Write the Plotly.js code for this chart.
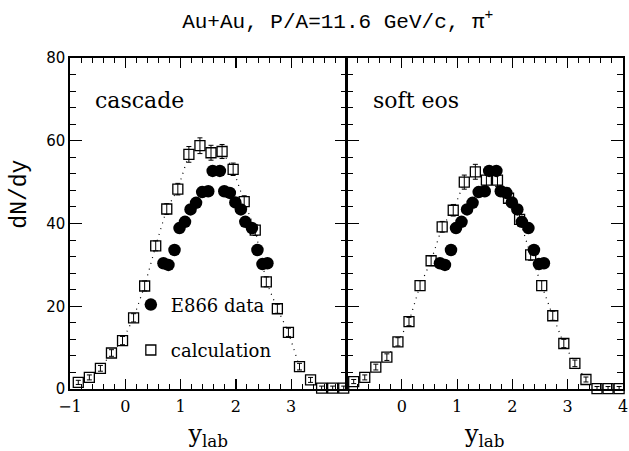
<!DOCTYPE html>
<html>
<head>
<meta charset="utf-8">
<script src="https://cdn.plot.ly/plotly-3.0.1.min.js"></script>
<style>html,body{margin:0;padding:0;background:#fff;}#chart{width:629px;height:451px;}</style>
</head>
<body>
<div id="chart"></div>
<script>
// E866 data (same in both panels)
const dataX = [0.69,0.78,0.89,0.98,1.08,1.18,1.28,1.39,1.50,1.58,1.71,1.79,1.89,1.99,2.09,2.17,2.29,2.39,2.48,2.57];
const dataY = [30.4,30.0,33.6,38.9,40.4,43.4,45.0,47.6,47.8,52.7,52.7,47.8,47.4,45.1,43.4,40.4,38.9,33.6,30.2,30.4];

// cascade calculation (left panel)
const calcLeftX = [-0.85,-0.65,-0.45,-0.25,-0.05,0.15,0.35,0.55,0.75,0.95,1.15,1.35,1.55,1.75,1.95,2.15,2.35,2.55,2.75,2.95,3.15,3.35,3.55,3.75,3.95];
const calcLeftY = [1.6,2.8,5.0,8.7,11.7,17.2,24.9,34.6,43.5,48.3,56.7,58.8,57.1,57.4,53.1,45.3,38.4,25.9,19.4,13.7,5.4,2.2,0.2,0.2,0.2];
const calcLeftErr = [0.5,0.6,0.7,0.8,1.0,1.0,1.2,1.2,1.3,1.4,1.9,1.9,1.8,1.7,1.5,1.4,1.3,1.2,1.1,1.0,0.8,0.6,0.5,0.5,0.5];

// soft eos calculation (right panel)
const calcRightX = [-0.87,-0.67,-0.47,-0.27,-0.07,0.13,0.33,0.53,0.73,0.93,1.13,1.33,1.53,1.73,1.93,2.13,2.33,2.53,2.73,2.93,3.13,3.33,3.53,3.73,3.93];
const calcRightY = [1.8,2.8,5.3,7.7,11.4,16.3,25.0,31.0,39.2,43.2,50.0,52.5,50.5,50.5,46.1,41.0,32.4,25.0,17.7,11.0,6.2,2.3,0.1,0.1,0.1];
const calcRightErr = [0.5,0.6,0.7,0.8,1.0,1.0,1.2,1.2,1.3,1.4,1.7,1.8,1.7,1.6,1.5,1.4,1.3,1.2,1.1,1.0,0.8,0.6,0.5,0.5,0.5];

const leftTicks = [-1,0,1,2,3];
const rightTicks = [0,1,2,3,4];
const yTicks = [0,20,40,60,80];

const serif = 'DejaVu Serif';
const mono = 'Liberation Mono';

function calcTraces(x, y, err, xa, ya, legend) {
  return [
    {x:x, y:y, xaxis:xa, yaxis:ya, type:'scatter', mode:'lines', showlegend:false,
     line:{color:'black', width:1.2, dash:'1px,5px'}, cliponaxis:false, hoverinfo:'skip'},
    {x:x, y:y, xaxis:xa, yaxis:ya, type:'scatter', mode:'markers', name:'calculation',
     showlegend:legend, legendgroup:'calc', legendrank:2,
     marker:{symbol:'square', size:10, color:'white', line:{color:'black', width:1.3}}, cliponaxis:false},
    {x:x, y:y, xaxis:xa, yaxis:ya, type:'scatter', mode:'markers', showlegend:false,
     marker:{size:1, color:'rgba(0,0,0,0)'},
     error_y:{type:'data', array:err, visible:true, color:'black', thickness:1, width:2.5}, cliponaxis:false}
  ];
}
function dataTrace(xa, ya, legend) {
  return {x:dataX, y:dataY, xaxis:xa, yaxis:ya, type:'scatter', mode:'markers', name:'E866 data',
    showlegend:legend, legendgroup:'data', legendrank:1,
    marker:{symbol:'circle', size:12.5, color:'black'}, cliponaxis:false};
}

const traces = [].concat(
  calcTraces(calcLeftX, calcLeftY, calcLeftErr, 'x', 'y', true),
  [dataTrace('x','y', true)],
  calcTraces(calcRightX, calcRightY, calcRightErr, 'x2', 'y2', false),
  [dataTrace('x2','y2', false)]
);

function xAxis(dom, vals, anchor) {
  return {domain:dom, range:[-1,4.0001], anchor:anchor, tickmode:'array', tickvals:vals,
    ticklabeloverflow:'allow', ticklabelstandoff:2,
    ticks:'inside', ticklen:10, tickwidth:1.2, tickcolor:'black',
    showline:true, linecolor:'black', linewidth:1.6, mirror:'allticks',
    showgrid:false, zeroline:false,
    tickfont:{family:serif, size:16, color:'black'},
    minor:{tickmode:'linear', tick0:0, dtick:0.2, ticks:'inside', ticklen:5, tickwidth:1, tickcolor:'black', showgrid:false},
    title:{text:'y<sub>lab</sub>', font:{family:serif, size:24, color:'black'}}};
}
function yAxis(anchor, labels) {
  return {domain:[0,1], range:[0,80], anchor:anchor, tickmode:'array', tickvals:yTicks,
    showticklabels:labels,
    ticks:'inside', ticklen:12, tickwidth:1.2, tickcolor:'black',
    showline:true, linecolor:'black', linewidth:1.6, mirror:'allticks',
    showgrid:false, zeroline:false,
    tickfont:{family:'DejaVu Sans', size:15, color:'black'},
    minor:{tickmode:'linear', tick0:0, dtick:4, ticks:'inside', ticklen:6, tickwidth:1, tickcolor:'black', showgrid:false}};
}

const layout = {
  width:629, height:451,
  margin:{l:70, r:6, t:58, b:62},
  paper_bgcolor:'white', plot_bgcolor:'white',
  title:{text:'Au+Au, P/A=11.6 GeV/c, π<sup>+</sup>', font:{family:mono, size:21, color:'black'},
    x:0.537, xanchor:'center', y:0.955, yanchor:'middle'},
  xaxis:xAxis([0,0.5], leftTicks, 'y'),
  xaxis2:xAxis([0.5,1], rightTicks, 'y2'),
  yaxis:yAxis('x', true),
  yaxis2:yAxis('x2', false),
  showlegend:true,
  legend:{x:0.11, y:0.31, xanchor:'left', yanchor:'top', bgcolor:'rgba(0,0,0,0)', borderwidth:0,
    font:{family:serif, size:18, color:'black'}, traceorder:'grouped', tracegroupgap:19, itemwidth:30},
  annotations:[
    {text:'cascade', xref:'x', yref:'y', x:-0.58, y:69.8, xanchor:'left', yanchor:'middle', showarrow:false,
     font:{family:serif, size:22, color:'black'}},
    {text:'soft eos', xref:'x2', yref:'y2', x:-0.56, y:69.8, xanchor:'left', yanchor:'middle', showarrow:false,
     font:{family:serif, size:22, color:'black'}},
    {text:'dN/dy', xref:'paper', yref:'y', x:-0.092, y:47, xanchor:'center', yanchor:'middle', textangle:-90, showarrow:false,
     font:{family:mono, size:23, color:'black'}}
  ]
};

Plotly.newPlot('chart', traces, layout, {displayModeBar:false, staticPlot:true});
</script>
</body>
</html>
